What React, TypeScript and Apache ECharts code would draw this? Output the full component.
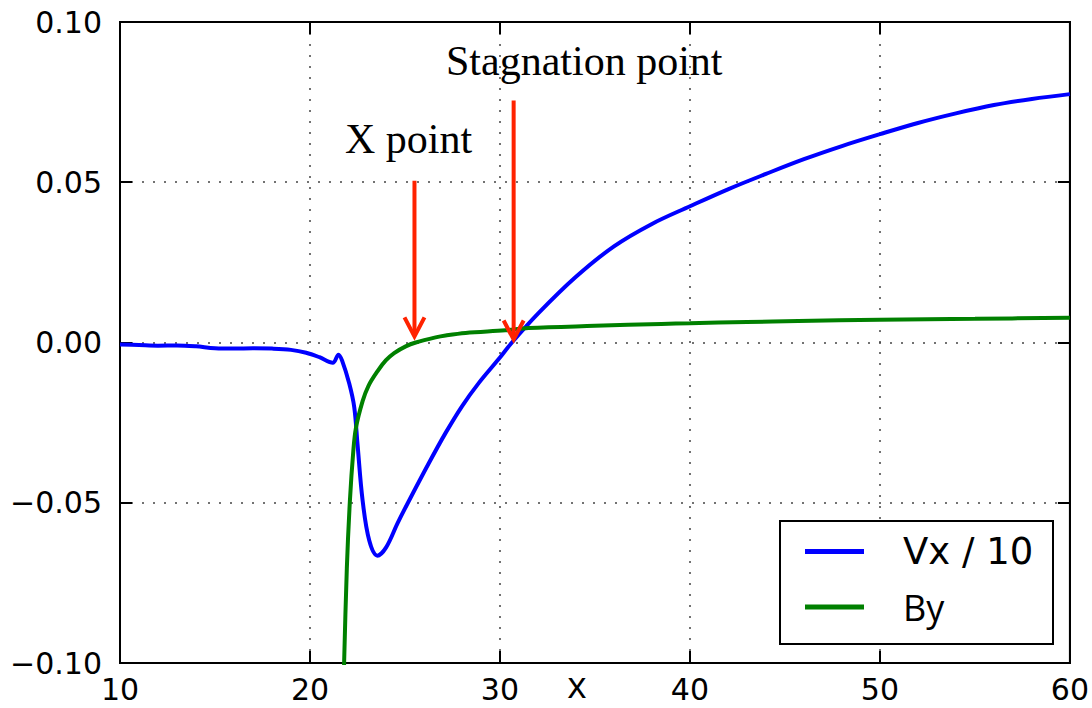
import React, { useEffect, useRef } from "react";
import * as echarts from "echarts";

// ---- data ----
const vxX = [10, 11, 12, 13, 14, 15, 16, 17, 18, 19, 19.8, 20.5, 21.2, 21.5, 21.7, 22.07, 22.33, 22.5, 22.77, 23.12, 23.55, 24.0, 24.6, 25.13, 26.26, 27.14, 28.0, 28.89, 29.9, 30.63, 32, 34, 36, 38, 40, 42, 44, 46, 48, 50, 52, 54, 56, 58, 60];
const vxY = [-0.0006, -0.0008, -0.001, -0.0009, -0.0012, -0.0018, -0.0019, -0.0018, -0.0019, -0.0023, -0.0032, -0.0046, -0.0063, -0.0038, -0.0058, -0.0129, -0.0202, -0.0316, -0.0493, -0.0618, -0.0665, -0.064, -0.0565, -0.0503, -0.0376, -0.0282, -0.0199, -0.0126, -0.0054, 0.0, 0.009, 0.0205, 0.03, 0.037, 0.0425, 0.0478, 0.0526, 0.0572, 0.0613, 0.065, 0.0685, 0.0715, 0.0741, 0.076, 0.0775];

const byX = [21.78, 21.8, 21.94, 22.1, 22.28, 22.42, 22.77, 23.08, 23.55, 23.99, 24.43, 25.04, 25.57, 26.61, 27.14, 28.19, 30.29, 31.5, 35, 38.5, 40, 43, 45.7, 50, 55, 60];
const byY = [-0.105, -0.0992, -0.0704, -0.0495, -0.0339, -0.0266, -0.0183, -0.0135, -0.009, -0.0056, -0.0033, -0.0012, 0.0, 0.0016, 0.0022, 0.003, 0.0038, 0.0045, 0.0052, 0.0058, 0.006, 0.0064, 0.0067, 0.0071, 0.0074, 0.0077];

const seriesNames = ["Vx / 10", "By"];
const xTicks = { min: 10, max: 60, interval: 10 };
const yTicks = { min: -0.1, max: 0.1, interval: 0.05 };

// annotation arrows (data coordinates: x, y of tail, y of tip)
const arrowX = [25.5, 30.72];
const arrowTail = [0.0505, 0.0755];
const arrowTip = [0.0013, 0.0003];
const annotationLabels = ["X point", "Stagnation point"];

const fmtY = (v: number) => {
  const r = Math.round(v * 100) / 100;
  const s = Math.abs(r).toFixed(2);
  return r < 0 ? "\u2212" + s : s;
};

export default function App() {
  const ref = useRef<HTMLDivElement>(null);
  useEffect(() => {
    if (!ref.current) return;
    const chart = echarts.init(ref.current, null, { renderer: "svg" });
    const tickFont = { fontFamily: "DejaVu Sans", fontSize: 30, color: "#000" };
    const splitStyle = { type: [2, 9] as any, color: "#444", width: 1.5 };
    const tickStyle = { inside: true, length: 12, lineStyle: { color: "#000", width: 2 } };
    const axLine = { show: true, onZero: false, lineStyle: { color: "#000", width: 2 } };
    chart.setOption({
      animation: false,
      backgroundColor: "#fff",
      grid: { left: 120, right: 19, top: 22, bottom: 45, show: true, borderColor: "#000", borderWidth: 2, backgroundColor: "#fff" },
      xAxis: [
        {
          type: "value", ...xTicks,
          axisLine: axLine,
          axisTick: tickStyle,
          axisLabel: { ...tickFont, margin: 11 },
          splitLine: { show: true, lineStyle: splitStyle },
        },
        {
          type: "value", position: "top", ...xTicks,
          axisLine: axLine,
          axisTick: tickStyle, axisLabel: { show: false }, splitLine: { show: false },
        },
      ],
      yAxis: [
        {
          type: "value", ...yTicks,
          axisLine: axLine,
          axisTick: tickStyle,
          axisLabel: { ...tickFont, margin: 18, formatter: fmtY },
          splitLine: { show: true, lineStyle: splitStyle },
        },
        {
          type: "value", position: "right", ...yTicks,
          axisLine: axLine,
          axisTick: tickStyle, axisLabel: { show: false }, splitLine: { show: false },
        },
      ],
      legend: {
        orient: "vertical", left: 805, top: 533, padding: 0, itemGap: 19,
        itemWidth: 59, itemHeight: 5, icon: "rect",
        data: seriesNames,
        formatter: (n: string) => (n === "By" ? "{b|" + n + "}" : "{a|" + n + "}"),
        textStyle: {
          padding: [0, 0, 0, 34],
          rich: {
            a: { fontFamily: "DejaVu Sans", fontSize: 37, color: "#000" },
            b: { fontFamily: "Open Sans", fontSize: 36, color: "#000" },
          },
        },
      },
      series: [
        {
          name: seriesNames[0], type: "line", showSymbol: false, smooth: 0.35,
          lineStyle: { color: "#0000ff", width: 4 }, itemStyle: { color: "#0000ff" },
          data: vxX.map((x, i) => [x, vxY[i]]), z: 2,
        },
        {
          name: seriesNames[1], type: "line", showSymbol: false, smooth: 0.35,
          lineStyle: { color: "#008000", width: 4 }, itemStyle: { color: "#008000" },
          data: byX.map((x, i) => [x, byY[i]]), z: 2,
        },
      ],
    });

    const elements: any[] = [];
    // legend frame
    elements.push({
      type: "rect", z: 3, shape: { x: 780, y: 521, width: 273, height: 123 },
      style: { fill: "#fff", stroke: "#000", lineWidth: 2 },
    });
    // arrows
    arrowX.forEach((ax, i) => {
      const tail = chart.convertToPixel({ xAxisIndex: 0, yAxisIndex: 0 }, [ax, arrowTail[i]]) as number[];
      const tip = chart.convertToPixel({ xAxisIndex: 0, yAxisIndex: 0 }, [ax, arrowTip[i]]) as number[];
      elements.push({
        type: "line", z: 5,
        shape: { x1: tail[0], y1: tail[1], x2: tip[0], y2: tip[1] - 3 },
        style: { stroke: "#ff2200", lineWidth: 4 },
      });
      elements.push({
        type: "polyline", z: 5,
        shape: { points: [[tip[0] - 10, tip[1] - 21], [tip[0], tip[1] - 2], [tip[0] + 10, tip[1] - 21]] },
        style: { stroke: "#ff2200", lineWidth: 4, fill: "none" },
      });
    });
    // annotation texts
    elements.push({
      type: "text", z: 5, x: 345, y: 139,
      style: { text: annotationLabels[0], fontFamily: "Liberation Serif", fontSize: 42, fill: "#000", verticalAlign: "middle", align: "left" },
    });
    elements.push({
      type: "text", z: 5, x: 446, y: 61,
      style: { text: annotationLabels[1], fontFamily: "Liberation Serif", fontSize: 42, fill: "#000", verticalAlign: "middle", align: "left" },
    });
    // x axis name
    elements.push({
      type: "text", z: 5, x: 577, y: 683,
      style: { text: "x", fontFamily: "Open Sans", fontSize: 37, lineHeight: 37, fill: "#000", verticalAlign: "middle", align: "center" },
    });
    chart.setOption({ graphic: { elements } });

    return () => chart.dispose();
  }, []);
  return <div ref={ref} style={{ position: "absolute", left: 0, top: 0, width: 1092, height: 708 }} />;
}
